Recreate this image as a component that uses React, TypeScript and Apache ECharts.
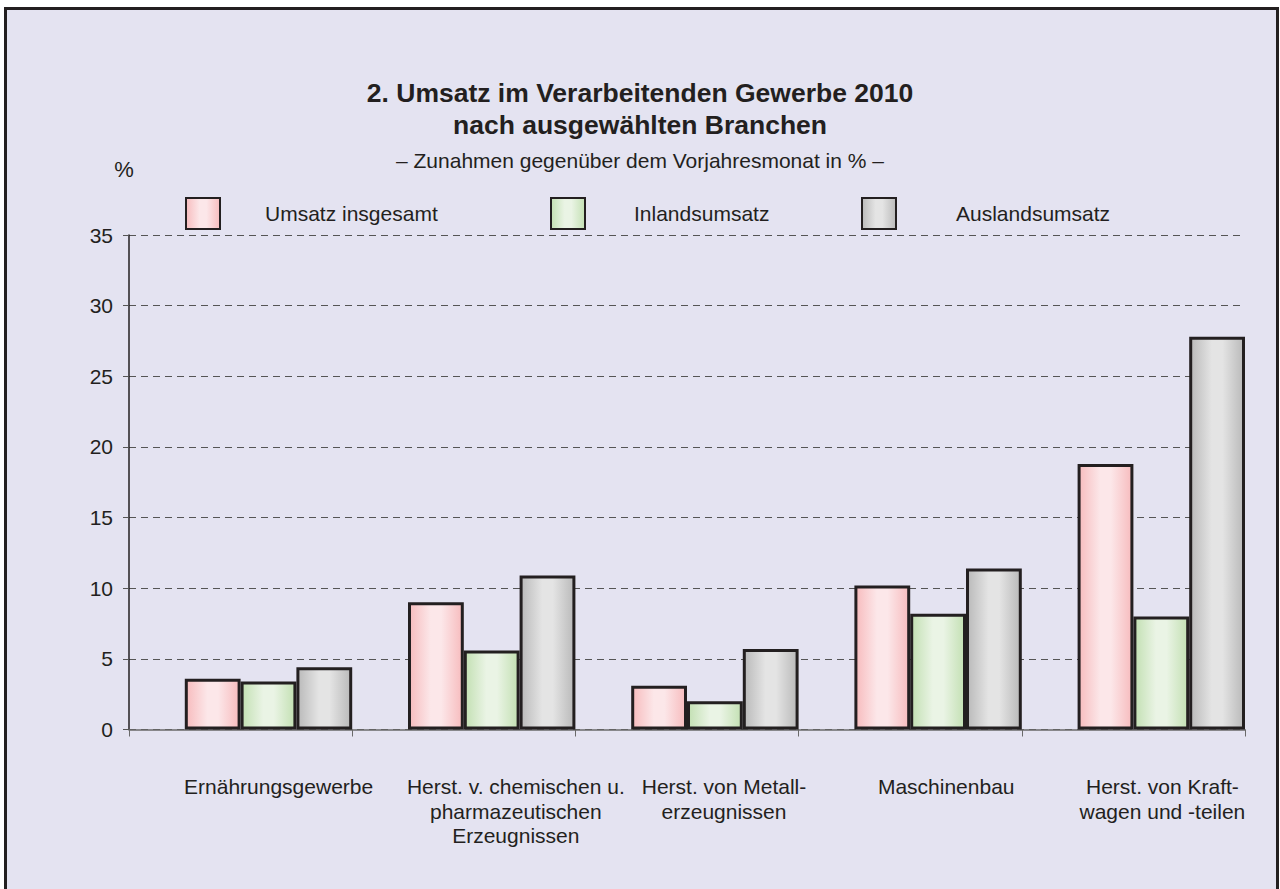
import React, { useEffect, useRef } from "react";
import * as echarts from "echarts";

const categories = [
  "Ernährungsgewerbe",
  "Herst. v. chemischen u.\npharmazeutischen\nErzeugnissen",
  "Herst. von Metall-\nerzeugnissen",
  "Maschinenbau",
  "Herst. von Kraft-\nwagen und -teilen",
];
const umsatzInsgesamt = [3.6, 9.0, 3.1, 10.2, 18.8];
const inlandsumsatz = [3.4, 5.6, 2.0, 8.2, 8.0];
const auslandsumsatz = [4.4, 10.9, 5.7, 11.4, 27.8];
const seriesNames = ["Umsatz insgesamt", "Inlandsumsatz", "Auslandsumsatz"];
const labelShift = [38, 52, 37, 36, 29];

const FONT = "'Liberation Sans', Arial, Helvetica, sans-serif";
const TXT = "#231F20";

function grad(edge: string, mid: string) {
  return new echarts.graphic.LinearGradient(0, 0, 1, 0, [
    { offset: 0, color: edge },
    { offset: 0.4, color: mid },
    { offset: 0.6, color: mid },
    { offset: 1, color: edge },
  ]);
}

export default function App() {
  const ref = useRef<HTMLDivElement>(null);
  useEffect(() => {
    document.body.style.margin = "0";
    const chart = echarts.init(ref.current!, undefined, { renderer: "svg" });
    const fills = [
      grad("#F7BCBE", "#FCE7E9"),
      grad("#C3E0B3", "#EAF4E5"),
      grad("#BABABA", "#E4E4E4"),
    ];
    const rich: any = {};
    labelShift.forEach((s, i) => {
      rich["r" + i] = {
        fontSize: 21,
        lineHeight: 24.5,
        color: TXT,
        fontFamily: FONT,
        padding: [0, 0, 0, s * 2],
      };
    });
    const dataSets = [umsatzInsgesamt, inlandsumsatz, auslandsumsatz];
    const legendLeft = [185, 550, 861];
    const legendPad = [40, 44, 55];
    chart.setOption({
      animation: false,
      backgroundColor: "#ffffff",
      textStyle: { fontFamily: FONT },
      graphic: [
        {
          type: "rect",
          z: -10,
          silent: true,
          shape: { x: 5.5, y: 8.5, width: 1272, height: 900 },
          style: { fill: "#E4E3F1", stroke: TXT, lineWidth: 3 },
        },
      ],
      title: {
        left: "center",
        top: 72,
        text: "2. Umsatz im Verarbeitenden Gewerbe 2010\nnach ausgewählten Branchen",
        subtext: "– Zunahmen gegenüber dem Vorjahresmonat in % –",
        itemGap: 6,
        textStyle: {
          fontSize: 26.5,
          fontWeight: "bold",
          lineHeight: 32,
          color: TXT,
          fontFamily: FONT,
        },
        subtextStyle: {
          fontSize: 21,
          lineHeight: 26,
          color: TXT,
          fontFamily: FONT,
        },
      },
      legend: seriesNames.map((n, i) => ({
        data: [{ name: n, icon: "rect" }],
        left: legendLeft[i],
        top: 197,
        padding: 0,
        itemWidth: 34,
        itemHeight: 31,
        selectedMode: false,
        textStyle: {
          fontSize: 21,
          color: TXT,
          fontFamily: FONT,
          padding: [0, 0, 0, legendPad[i]],
        },
      })),
      grid: { left: 129, right: 35, top: 235, bottom: 159.5 },
      xAxis: {
        type: "category",
        data: categories,
        axisLine: { lineStyle: { color: "#6A6A6A", width: 1.5 } },
        axisTick: { show: true, length: 7, lineStyle: { color: "#6A6A6A" } },
        axisLabel: {
          interval: 0,
          margin: 45,
          formatter: (v: string, i: number) => `{r${i}|${v}}`,
          rich,
        },
      },
      yAxis: {
        type: "value",
        min: 0,
        max: 35,
        interval: 5,
        name: "%",
        nameLocation: "end",
        nameGap: 55,
        nameTextStyle: {
          fontSize: 22,
          color: TXT,
          fontFamily: FONT,
          padding: [0, 10, 0, 0],
        },
        axisLine: { show: true, lineStyle: { color: TXT, width: 1.5 } },
        axisTick: { show: true, length: 6, lineStyle: { color: "#555" } },
        axisLabel: { fontSize: 21, margin: 16, color: TXT, fontFamily: FONT },
        splitLine: {
          show: true,
          lineStyle: { color: "#555", type: [7, 5], width: 1 },
        },
      },
      series: [
        {
          type: "bar",
          name: "_spacer",
          data: categories.map(() => "-"),
          barGap: "0%",
          barCategoryGap: "0%",
          silent: true,
        },
        ...seriesNames.map((n, i) => ({
          type: "bar",
          name: n,
          data: dataSets[i],
          barGap: "0%",
          barCategoryGap: "0%",
          itemStyle: { color: fills[i], borderColor: TXT, borderWidth: 3 },
        })),
      ],
    });
    return () => chart.dispose();
  }, []);
  return <div ref={ref} style={{ width: 1280, height: 889 }} />;
}
